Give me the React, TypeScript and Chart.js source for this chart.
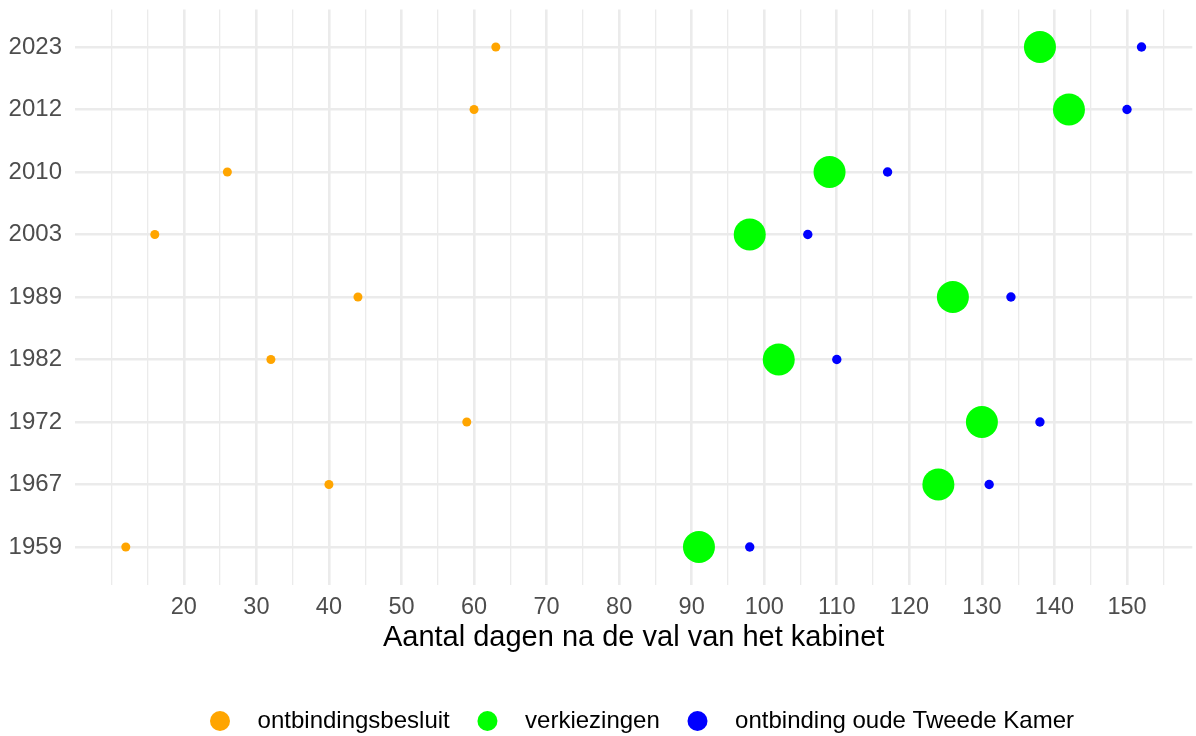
import React, { useEffect, useRef } from 'react';
import { Chart, registerables } from 'chart.js';

Chart.register(...registerables);

const FONT = '"Liberation Sans", Arial, Helvetica, sans-serif';

// Categories (bottom to top)
const years = ['1959', '1967', '1972', '1982', '1989', '2003', '2010', '2012', '2023'];

// Series values (days after the fall of the cabinet), same order as years
const ontbindingsbesluit = [12, 40, 59, 32, 44, 16, 26, 60, 63];
const verkiezingen = [91, 124, 130, 102, 126, 98, 109, 142, 138];
const ontbindingOudeKamer = [98, 131, 138, 110, 134, 106, 117, 150, 152];

const seriesLabels = ['ontbindingsbesluit', 'verkiezingen', 'ontbinding oude Tweede Kamer'];
const seriesColors = ['#FFA500', '#00FF00', '#0000FF'];
const seriesRadii = [4.5, 16, 4.7];

// X axis ticks
const xMajorTicks = [20, 30, 40, 50, 60, 70, 80, 90, 100, 110, 120, 130, 140, 150];
const xMinorTicks = [10, 15, 25, 35, 45, 55, 65, 75, 85, 95, 105, 115, 125, 135, 145, 155];

const axisTitle = 'Aantal dagen na de val van het kabinet';

const legendPlugin = {
  id: 'ggLegend',
  afterDraw(chart: any) {
    const ctx = chart.ctx as CanvasRenderingContext2D;
    ctx.save();
    ctx.font = `24px ${FONT}`;
    const r = 10;
    const gapText = 37.6;
    const gapItem = 37.7;
    const items = chart.data.datasets.map((ds: any) => ({
      label: ds.label as string,
      color: ds.backgroundColor as string,
      w: ctx.measureText(ds.label).width,
    }));
    let total = r;
    items.forEach((it: any, i: number) => {
      total += gapText + it.w;
      if (i < items.length - 1) total += gapItem;
    });
    const centerX = 642;
    const cy = 721;
    let cx = centerX - total / 2 + r;
    ctx.textBaseline = 'middle';
    ctx.textAlign = 'left';
    items.forEach((it: any) => {
      ctx.beginPath();
      ctx.fillStyle = it.color;
      ctx.arc(cx, cy, r, 0, Math.PI * 2);
      ctx.fill();
      ctx.fillStyle = '#000000';
      ctx.fillText(it.label, cx + gapText, cy);
      cx += gapText + it.w + gapItem;
    });
    ctx.restore();
  },
};

const zeroPadding = (scale: any) => {
  scale.paddingTop = 0;
  scale.paddingBottom = 0;
  scale.paddingLeft = 0;
  scale.paddingRight = 0;
};

export default function App() {
  const canvasRef = useRef<HTMLCanvasElement | null>(null);

  useEffect(() => {
    document.body.style.margin = '0';
    const canvas = canvasRef.current;
    if (!canvas) return;

    const seriesValues = [ontbindingsbesluit, verkiezingen, ontbindingOudeKamer];
    const datasets = seriesValues.map((vals, si) => ({
      type: 'scatter' as const,
      label: seriesLabels[si],
      data: vals.map((v, i) => ({ x: v, y: i })),
      backgroundColor: seriesColors[si],
      borderColor: seriesColors[si],
      borderWidth: 0,
      pointRadius: seriesRadii[si],
      pointHoverRadius: seriesRadii[si],
    }));

    const chart = new Chart(canvas, {
      type: 'scatter',
      data: { datasets },
      plugins: [legendPlugin],
      options: {
        animation: false,
        responsive: false,
        devicePixelRatio: 1,
        layout: { autoPadding: false, padding: { top: 9.5, left: 0, right: 3.7, bottom: 76 } },
        plugins: {
          legend: { display: false },
          tooltip: { enabled: false },
          title: { display: false },
        },
        scales: {
          x: {
            type: 'linear',
            min: 5,
            max: 159,
            afterBuildTicks: (scale: any) => {
              const all = [...xMajorTicks, ...xMinorTicks].sort((a, b) => a - b);
              scale.ticks = all.map((v) => ({ value: v }));
            },
            afterFit: (scale: any) => {
              scale.height = 75.5;
              zeroPadding(scale);
            },
            ticks: {
              autoSkip: false,
              maxRotation: 0,
              padding: 8.5,
              color: '#4D4D4D',
              font: { family: FONT, size: 23.5 },
              callback: (value: any) => (xMajorTicks.includes(Number(value)) ? String(value) : ''),
            },
            grid: {
              drawTicks: false,
              color: '#EBEBEB',
              lineWidth: (ctx: any) => (ctx.tick && xMajorTicks.includes(ctx.tick.value) ? 2.6 : 1.3),
            },
            border: { display: false },
            title: {
              display: true,
              text: axisTitle,
              color: '#000000',
              font: { family: FONT, size: 29, lineHeight: 1.2 },
              padding: { top: 0, bottom: 4.5 },
            },
          },
          y: {
            type: 'linear',
            min: -0.6,
            max: 8.6,
            afterBuildTicks: (scale: any) => {
              scale.ticks = years.map((_, i) => ({ value: i }));
            },
            afterFit: (scale: any) => {
              scale.width = 75;
              zeroPadding(scale);
            },
            ticks: {
              autoSkip: false,
              padding: 13,
              color: '#4D4D4D',
              font: { family: FONT, size: 24 },
              callback: (value: any) => years[Number(value)] ?? '',
            },
            grid: {
              drawTicks: false,
              color: '#EBEBEB',
              lineWidth: 2.6,
            },
            border: { display: false },
          },
        },
      },
    });

    return () => {
      chart.destroy();
    };
  }, []);

  return (
    <div style={{ width: 1196, height: 736, background: '#FFFFFF' }}>
      <canvas ref={canvasRef} width={1196} height={736} style={{ display: 'block' }} />
    </div>
  );
}
